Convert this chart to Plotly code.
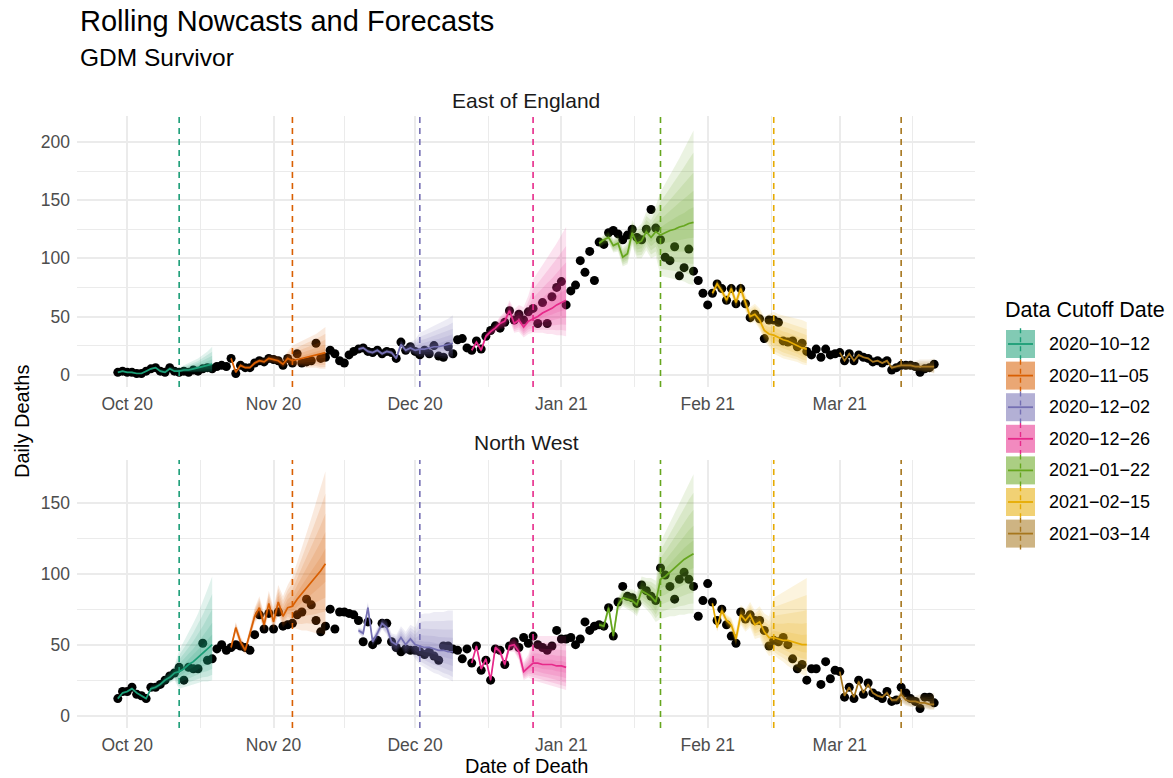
import pandas as pd
import plotly.graph_objects as go

# ---------------------------------------------------------------- data
FIRST_DAY = "2020-09-29"
CUTOFFS = ["2020-10-12", "2020-11-05", "2020-12-02", "2020-12-26",
           "2021-01-22", "2021-02-15", "2021-03-14"]
COLOURS = ["#1B9E77", "#D95F02", "#7570B3", "#E7298A",
           "#66A61E", "#E6AB02", "#A6761D"]
REGIONS = ["East of England", "North West"]

# observed daily deaths, one value per day from FIRST_DAY
east_deaths = [
    2, 3, 2, 2, 1, 1, 3, 5, 6, 3,
    2, 6, 3, 2, 3, 2, 4, 3, 5, 6,
    5, 7, 8, 7, 14, 1, 8, 6, 6, 10,
    12, 11, 14, 13, 12, 8, 14, 10, 18, 10,
    11, 12, 27, 14, 15, 21, 18, 12, 10, 17,
    20, 22, 23, 20, 19, 21, 18, 20, 19, 14,
    28, 21, 24, 20, 17, 21, 18, 25, 16, 15,
    24, 18, 30, 31, 23, 21, 29, 22, 33, 38,
    42, 40, 45, 55, 47, 52, 47, 54, 57, 44,
    62, 44, 67, 75, 80, 60, 72, 77, 98, 88,
    106, 81, 114, 112, 122, 124, 121, 116, 120, 125,
    118, 116, 125, 142, 126, 116, 101, 98, 110, 85,
    92, 108, 89, 81, 70, 60, 70, 78, 74, 64,
    74, 61, 74, 61, 49, 52, 48, 31, 47, 47,
    45, 29, 28, 29, 24, 27, 20, 17, 22, 15,
    22, 17, 18, 19, 12, 18, 12, 17, 15, 14,
    11, 12, 10, 12, 4, 6, 8, 8, 8, 7,
    2, 5, 6, 9,
]
nw_deaths = [
    12, 17, 17, 20, 15, 14, 12, 20, 20, 22,
    25, 28, 30, 34, 25, 34, 33, 33, 51, 39,
    40, 47, 50, 46, 48, 50, 49, 48, 46, 57,
    71, 61, 72, 61, 73, 63, 64, 65, 71, 73,
    82, 78, 67, 59, 63, 75, 61, 73, 73, 72,
    71, 67, 52, 66, 50, 53, 65, 65, 52, 48,
    45, 47, 46, 46, 45, 43, 45, 42, 39, 49,
    49, 47, 46, 40, 47, 37, 49, 32, 39, 25,
    47, 46, 36, 49, 52, 48, 55, 51, 56, 50,
    48, 46, 49, 60, 54, 54, 55, 50, 54, 66,
    60, 63, 64, 63, 76, 56, 80, 91, 84, 83,
    79, 92, 88, 84, 81, 104, 99, 91, 82, 96,
    101, 96, 91, 70, 81, 93, 80, 67, 75, 64,
    56, 51, 73, 68, 71, 67, 67, 60, 49, 53,
    52, 55, 50, 40, 33, 36, 25, 33, 33, 22,
    38, 26, 32, 31, 13, 20, 12, 25, 15, 23,
    16, 14, 12, 17, 10, 11, 20, 16, 12, 10,
    5, 13, 13, 9,
]

# nowcast / forecast summaries: 21 days each, from cutoff - 13 days to cutoff + 7 days
# (median, lower and upper limits of the widest interval), one row per cutoff
east_med = [
    [2, 3, 2, 2, 1, 1, 3, 5, 6, 3, 2, 5, 3, 3, 4, 4, 5, 6, 7, 8, 9],
    [14, 2, 8, 6, 6, 10, 12, 11, 14, 13, 12, 9, 14, 12, 13, 14, 15, 16, 17, 18, 19],
    [22, 23, 20, 19, 21, 18, 20, 19, 14, 26, 21, 23, 21, 22, 22, 23, 24, 24, 25, 26, 27],
    [21, 28, 21, 33, 37, 40, 44, 46, 55, 44, 47, 41, 46, 48, 50, 53, 55, 57, 60, 62, 64],
    [113, 116, 118, 111, 113, 101, 104, 122, 113, 115, 123, 118, 123, 120, 122, 124, 125, 127, 128, 130, 131],
    [70, 78, 72, 64, 74, 62, 74, 61, 50, 52, 47, 38, 35, 34, 32, 30, 29, 27, 25, 23, 22],
    [19, 12, 18, 12, 17, 15, 14, 11, 12, 10, 12, 6, 7, 8, 8, 8, 7, 7, 7, 7, 7],
]
east_lo = [
    [1, 2, 1, 1, 0.5, 0.5, 2, 4, 5, 2, 1, 4, 2, 1.5, 1.5, 1.5, 2, 2, 2, 2, 2],
    [12, 1, 6, 5, 5, 8, 10, 9, 11, 10, 9, 6, 9, 7, 7, 7, 6, 6, 6, 5, 5],
    [20, 21, 18, 17, 19, 16, 18, 17, 12, 23, 18, 19, 17, 15, 15, 15, 15, 15, 14, 14, 14],
    [19, 26, 19, 30, 34, 36, 39, 40, 47, 36, 37, 32, 35, 36, 36, 36, 35, 35, 34, 34, 33],
    [109, 112, 113, 105, 106, 93, 95, 111, 100, 100, 107, 100, 102, 85, 84, 83, 82, 81, 80, 78, 77],
    [67, 74, 68, 60, 69, 57, 68, 55, 44, 45, 39, 29, 24, 18, 16, 14, 13, 12, 11, 9, 8],
    [18, 11, 17, 11, 16, 14, 13, 10, 11, 9, 10, 4, 5, 5, 4, 4, 3, 3, 2, 2, 1],
]
east_hi = [
    [3, 4, 3, 3, 2, 2, 4, 6, 7, 5, 4, 7, 6, 6, 8, 10, 12, 14, 17, 20, 24],
    [16, 4, 10, 8, 8, 12, 14, 14, 17, 17, 16, 14, 20, 25, 27, 29, 31, 33, 35, 38, 41],
    [24, 25, 22, 21, 23, 20, 22, 21, 17, 30, 25, 28, 30, 36, 38, 40, 42, 44, 46, 48, 51],
    [23, 30, 24, 36, 40, 44, 50, 54, 64, 56, 60, 58, 68, 82, 88, 94, 100, 106, 113, 120, 127],
    [117, 120, 123, 117, 120, 110, 114, 133, 126, 130, 140, 137, 145, 157, 164, 171, 179, 186, 194, 202, 210],
    [73, 82, 76, 68, 79, 67, 80, 68, 58, 61, 57, 50, 52, 54, 52, 51, 50, 49, 48, 47, 45],
    [20, 13, 19, 13, 18, 16, 15, 12, 13, 11, 13, 8, 9, 11, 11, 12, 12, 13, 13, 13, 14],
]
nw_med = [
    [12, 16, 17, 19, 16, 14, 12, 19, 20, 22, 25, 27, 30, 31, 33, 36, 38, 41, 44, 47, 50],
    [48, 62, 52, 46, 58, 70, 76, 64, 79, 66, 80, 70, 76, 77, 82, 86, 90, 94, 98, 102, 107],
    [60, 58, 76, 52, 58, 65, 62, 52, 50, 55, 50, 54, 50, 49, 48, 48, 47, 46, 46, 45, 45],
    [37, 49, 33, 40, 25, 48, 45, 36, 49, 50, 45, 31, 34, 37, 37, 36, 36, 36, 35, 35, 34],
    [64, 63, 76, 56, 78, 83, 82, 81, 78, 88, 86, 84, 80, 96, 98, 101, 104, 107, 110, 112, 114],
    [79, 62, 74, 67, 64, 54, 71, 67, 71, 64, 66, 59, 55, 55, 54, 53, 53, 52, 51, 50, 50],
    [31, 14, 20, 13, 24, 16, 22, 16, 14, 13, 16, 11, 11, 15, 11, 10, 10, 9, 9, 8, 8],
]
nw_lo = [
    [11, 15, 16, 18, 15, 13, 11, 17, 18, 20, 22, 23, 25, 19, 20, 21, 22, 23, 24, 24, 25],
    [46, 58, 48, 43, 54, 65, 70, 59, 72, 60, 71, 62, 66, 62, 61, 60, 60, 59, 58, 58, 57],
    [58, 55, 72, 49, 54, 61, 57, 46, 44, 48, 42, 45, 40, 36, 34, 32, 30, 29, 27, 26, 24],
    [36, 47, 31, 38, 23, 45, 42, 33, 45, 45, 39, 25, 27, 25, 24, 23, 22, 21, 20, 19, 18],
    [62, 60, 72, 52, 73, 77, 75, 73, 70, 78, 75, 71, 66, 68, 69, 70, 70, 71, 71, 72, 72],
    [77, 59, 70, 63, 59, 49, 64, 59, 62, 54, 55, 47, 42, 43, 40, 38, 35, 33, 31, 29, 28],
    [30, 13, 19, 12, 23, 15, 21, 15, 13, 12, 15, 9, 9, 9, 7, 6, 6, 5, 5, 4, 4],
]
nw_hi = [
    [13, 17, 18, 20, 17, 15, 13, 21, 22, 24, 28, 31, 35, 46, 52, 58, 65, 72, 80, 89, 98],
    [50, 66, 56, 49, 62, 76, 84, 72, 88, 76, 92, 84, 92, 98, 108, 118, 128, 139, 150, 161, 172],
    [62, 61, 80, 55, 62, 69, 67, 58, 57, 63, 59, 64, 62, 71, 72, 72, 73, 73, 73, 74, 74],
    [38, 51, 35, 42, 27, 51, 48, 39, 53, 55, 51, 38, 43, 56, 56, 56, 56, 56, 56, 56, 56],
    [66, 66, 80, 60, 83, 89, 89, 89, 87, 98, 97, 97, 95, 122, 129, 136, 143, 150, 157, 164, 170],
    [81, 65, 78, 71, 69, 60, 78, 75, 80, 74, 77, 72, 70, 83, 85, 87, 89, 91, 93, 95, 97],
    [32, 15, 21, 14, 26, 17, 24, 17, 15, 14, 18, 12, 13, 18, 14, 14, 14, 15, 15, 15, 16],
]

# nested interval widths, as a share of the widest interval
BAND_SHARES = [1.0, 0.8, 0.6, 0.4, 0.2]

X_TICKS = ["2020-10-01", "2020-11-01", "2020-12-01", "2021-01-01", "2021-02-01", "2021-03-01"]
X_TICK_TEXT = ["Oct 20", "Nov 20", "Dec 20", "Jan 21", "Feb 21", "Mar 21"]
X_MINOR = ["2020-10-16 12:00", "2020-11-16", "2020-12-16 12:00", "2021-01-16 12:00",
           "2021-02-14 12:00", "2021-03-16 12:00"]

# ---------------------------------------------------------------- helpers
def rgba(hex_colour, alpha):
    h = hex_colour.lstrip("#")
    r, g, b = int(h[0:2], 16), int(h[2:4], 16), int(h[4:6], 16)
    return f"rgba({r},{g},{b},{alpha})"


def scaled(med, bound, share):
    # interval limit between the median and the widest limit (log scale)
    return [m * (b / m) ** share for m, b in zip(med, bound)]


# ---------------------------------------------------------------- layout geometry (pixels)
W, H = 1173, 778
L, R, T, B = 77, 975, 116, 728
PW, PH = R - L, B - T


def px(x):
    return (x - L) / PW


def py(y):
    return (B - y) / PH


TOP_DOMAIN = [py(387), 1.0]
BOTTOM_DOMAIN = [0.0, py(460)]

fig = go.Figure()
days = pd.date_range(FIRST_DAY, periods=len(east_deaths), freq="D")

panels = [
    ("x", "y", east_deaths, east_med, east_lo, east_hi),
    ("x2", "y2", nw_deaths, nw_med, nw_lo, nw_hi),
]

for xa, ya, deaths, meds, los, his in panels:
    # observed deaths
    fig.add_trace(go.Scatter(
        x=days, y=deaths, mode="markers", xaxis=xa, yaxis=ya,
        marker=dict(color="black", size=9, line=dict(width=0)),
        showlegend=False, hoverinfo="skip"))

    # interval ribbons
    for cut, col, med, lo, hi in zip(CUTOFFS, COLOURS, meds, los, his):
        window = pd.date_range(pd.Timestamp(cut) - pd.Timedelta(days=13), periods=len(med), freq="D")
        xs = list(window) + list(window[::-1])
        for share in BAND_SHARES:
            up = scaled(med, hi, share)
            dn = scaled(med, lo, share)
            fig.add_trace(go.Scatter(
                x=xs, y=up + dn[::-1], xaxis=xa, yaxis=ya, mode="lines",
                fill="toself", fillcolor=rgba(col, 0.13), line=dict(width=0),
                showlegend=False, hoverinfo="skip"))

    # median nowcast / forecast
    for cut, col, med in zip(CUTOFFS, COLOURS, meds):
        window = pd.date_range(pd.Timestamp(cut) - pd.Timedelta(days=13), periods=len(med), freq="D")
        fig.add_trace(go.Scatter(
            x=window, y=med, xaxis=xa, yaxis=ya, mode="lines",
            line=dict(color=col, width=1.7), showlegend=False, hoverinfo="skip"))

# cutoff markers in both panels
for cut, col in zip(CUTOFFS, COLOURS):
    for xa, ya in [("x", "y"), ("x2", "y2")]:
        fig.add_shape(type="line", xref=xa, yref=f"{ya} domain", x0=cut, x1=cut, y0=0, y1=1,
                      line=dict(color=col, width=1.6, dash="6px,5px"), layer="above")

# ---------------------------------------------------------------- axes
FONT = "Liberation Sans, Arial, Helvetica, sans-serif"
GRID = "#EBEBEB"
TICK_FONT = dict(family=FONT, size=17.5, color="#4D4D4D")
X_RANGE = ["2020-09-20 08:24", "2021-03-29 15:36"]

xaxis_common = dict(
    type="date", range=X_RANGE, tickmode="array", tickvals=X_TICKS, ticktext=X_TICK_TEXT,
    showgrid=True, gridcolor=GRID, gridwidth=1.6, zeroline=False, showline=False,
    ticks="", tickfont=TICK_FONT, ticklabelstandoff=4,
    minor=dict(tickmode="array", tickvals=X_MINOR, showgrid=True, gridcolor=GRID, gridwidth=0.8),
    domain=[0, 1],
)
yaxis_common = dict(
    showgrid=True, gridcolor=GRID, gridwidth=1.6, zeroline=False, showline=False,
    ticks="", tickfont=TICK_FONT, tickmode="array", ticklabelstandoff=6,
)

fig.update_layout(
    width=W, height=H,
    margin=dict(l=L, r=W - R, t=T, b=H - B),
    paper_bgcolor="white", plot_bgcolor="white",
    showlegend=False,
    font=dict(family=FONT, color="black"),
    xaxis=dict(xaxis_common, anchor="y"),
    xaxis2=dict(xaxis_common, anchor="y2"),
    yaxis=dict(yaxis_common, anchor="x", domain=TOP_DOMAIN, range=[-10.6, 222.4],
               tickvals=[0, 50, 100, 150, 200],
               minor=dict(tickmode="array", tickvals=[25, 75, 125, 175], showgrid=True,
                          gridcolor=GRID, gridwidth=0.8)),
    yaxis2=dict(yaxis_common, anchor="x2", domain=BOTTOM_DOMAIN, range=[-8.7, 180.0],
                tickvals=[0, 50, 100, 150],
                minor=dict(tickmode="array", tickvals=[25, 75, 125], showgrid=True,
                           gridcolor=GRID, gridwidth=0.8)),
)

# ---------------------------------------------------------------- text
notes = [
    dict(text="Rolling Nowcasts and Forecasts", x=px(78), y=py(21), xanchor="left",
         font=dict(size=29, color="black")),
    dict(text="GDM Survivor", x=px(78), y=py(58), xanchor="left",
         font=dict(size=24.5, color="black")),
    dict(text=REGIONS[0], x=0.5, y=py(100), xanchor="center",
         font=dict(size=21, color="#1A1A1A")),
    dict(text=REGIONS[1], x=0.5, y=py(442), xanchor="center",
         font=dict(size=21, color="#1A1A1A")),
    dict(text="Date of Death", x=0.5, y=py(766), xanchor="center",
         font=dict(size=20, color="black")),
    dict(text="Daily Deaths", x=px(22), y=py(422), xanchor="center", textangle=-90,
         font=dict(size=20, color="black")),
    dict(text="Data Cutoff Date", x=px(1003), y=py(310), xanchor="left",
         font=dict(size=21.5, color="black")),
]
for n in notes:
    fig.add_annotation(xref="paper", yref="paper", showarrow=False, yanchor="middle", **n)

# legend keys
KEY_X0, KEY_X1 = 1006, 1035
key_cx = (KEY_X0 + KEY_X1) / 2
for i, (cut, col) in enumerate(zip(CUTOFFS, COLOURS)):
    cy = 344 + i * 31.6
    fig.add_shape(type="line", xref="paper", yref="paper",
                  x0=px(key_cx), x1=px(key_cx), y0=py(cy - 15.8), y1=py(cy + 15.8),
                  line=dict(color=col, width=1.4, dash="5px,4px"))
    fig.add_shape(type="rect", xref="paper", yref="paper",
                  x0=px(KEY_X0), x1=px(KEY_X1), y0=py(cy - 14), y1=py(cy + 14),
                  fillcolor=rgba(col, 0.55), line=dict(width=0))
    fig.add_shape(type="line", xref="paper", yref="paper",
                  x0=px(KEY_X0 + 2), x1=px(KEY_X1 - 2), y0=py(cy), y1=py(cy),
                  line=dict(color=col, width=1.8))
    fig.add_annotation(xref="paper", yref="paper", showarrow=False,
                       x=px(1047), y=py(cy), xanchor="left", yanchor="middle",
                       text=cut.replace("-", "\u2212"), font=dict(size=18, color="black"))

fig.write_html("out.html")
